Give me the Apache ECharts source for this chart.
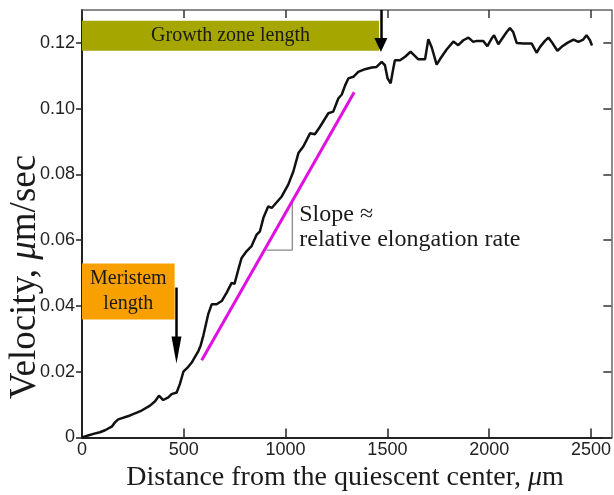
<!DOCTYPE html>
<html>
<head>
<meta charset="utf-8">
<title>Velocity profile along the root</title>
<script src="https://cdn.jsdelivr.net/npm/echarts@6/dist/echarts.min.js"></script>
<style>
  html, body { margin: 0; padding: 0; background: #fff; }
  #chart { width: 614px; height: 495px; }
</style>
</head>
<body>
<div id="chart"></div>
<script>
// Distance from the quiescent center (µm) and the measured velocity (µm/sec)
const distanceUm = [
  0, 30, 56, 88, 113, 146, 162, 178, 236, 293, 334, 359, 378, 399, 424, 440, 465,
  481, 498, 522, 539, 555, 571, 583, 596, 620, 637, 661, 686, 710, 735, 749, 768,
  784, 809, 833, 858, 874, 891, 915, 932, 981, 1013, 1038, 1063, 1087, 1120, 1144,
  1169, 1194, 1210, 1234, 1259, 1276, 1292, 1308, 1333, 1357, 1390, 1423, 1447,
  1472, 1488, 1501, 1516, 1529, 1537, 1562, 1587, 1614, 1631, 1652, 1685, 1701,
  1718, 1742, 1758, 1791, 1824, 1848, 1873, 1898, 1922, 1939, 1971, 1991, 2012,
  2024, 2045, 2069, 2086, 2102, 2118, 2135, 2168, 2209, 2233, 2250, 2274, 2291,
  2307, 2335, 2356, 2384, 2414, 2438, 2462, 2478, 2495, 2505
];
const velocity = [
  0.0000, 0.0006, 0.0011, 0.0016, 0.0022, 0.0033, 0.0046, 0.0055, 0.0067, 0.0082,
  0.0097, 0.0110, 0.0127, 0.0114, 0.0122, 0.0132, 0.0137, 0.0163, 0.0200, 0.0215,
  0.0228, 0.0245, 0.0262, 0.0280, 0.0310, 0.0375, 0.0405, 0.0405, 0.0415, 0.0440,
  0.0470, 0.0467, 0.0511, 0.0546, 0.0567, 0.0582, 0.0617, 0.0627, 0.0668, 0.0703,
  0.0698, 0.0733, 0.0769, 0.0809, 0.0865, 0.0885, 0.0925, 0.0922, 0.0945, 0.0970,
  0.0986, 0.0991, 0.1031, 0.1043, 0.1070, 0.1092, 0.1097, 0.1112, 0.1120, 0.1125,
  0.1127, 0.1142, 0.1132, 0.1092, 0.1077, 0.1122, 0.1147, 0.1147, 0.1158, 0.1173,
  0.1163, 0.1150, 0.1150, 0.1211, 0.1186, 0.1134, 0.1150, 0.1180, 0.1204, 0.1193,
  0.1208, 0.1216, 0.1203, 0.1206, 0.1206, 0.1190, 0.1213, 0.1223, 0.1196, 0.1218,
  0.1233, 0.1245, 0.1233, 0.1200, 0.1198, 0.1198, 0.1170, 0.1188, 0.1206, 0.1216,
  0.1203, 0.1176, 0.1188, 0.1200, 0.1210, 0.1203, 0.1210, 0.1223, 0.1208, 0.1192
];

// Axis ticks
const xTickValues = [0, 500, 1000, 1500, 2000, 2500];
const yTickValues = [0, 0.02, 0.04, 0.06, 0.08, 0.10, 0.12];

// Linear fit indicating the slope in the elongation zone
const slopeX = [588, 1337];
const slopeY = [0.0235, 0.105];

// Small right-angle marker under the slope line
const triangleX = [906, 1033, 1033];
const triangleY = [0.057, 0.057, 0.0721];

// Growth zone: box extent [x0, x1, y0, y1] and arrow [x, yStart, yTip]
const growthBox = [0, 1459, 0.1176, 0.1267];
const growthArrow = [1468, 0.13, 0.1172];

// Meristem: box extent and arrow
const meristemBox = [0, 455, 0.0359, 0.0529];
const meristemArrow = [464, 0.0456, 0.0225];

// Anchor (left, middle) of the slope annotation text
const slopeNote = [1067, 0.0639];

const zip = (xs, ys) => xs.map((x, i) => [x, ys[i]]);

const serif = "'Liberation Serif', 'DejaVu Serif', serif";
const sans = "'Liberation Sans', Arial, sans-serif";
const ink = '#1a1a1a';

const chart = echarts.init(document.getElementById('chart'), null, { renderer: 'canvas' });

// Vertical arrow; the head is centred on the line end, so the line stops
// half a head short of the tip.
function arrowSeries(arrow, headW, headH) {
  return {
    type: 'line',
    data: [],
    silent: true,
    markLine: {
      silent: true,
      animation: false,
      symbol: ['none', 'triangle'],
      symbolSize: [headW, headH],
      label: { show: false },
      lineStyle: { color: '#000', width: 2.5, type: 'solid' },
      data: [[{ coord: [arrow[0], arrow[1]] }, { coord: [arrow[0], arrow[2]] }]]
    },
    headH: headH
  };
}

function boxArea(box, color, text, fontSize, lineHeight) {
  return {
    type: 'line',
    data: [],
    silent: true,
    markArea: {
      silent: true,
      animation: false,
      itemStyle: { color: color, opacity: 1 },
      label: {
        show: true,
        position: 'inside',
        color: ink,
        fontFamily: serif,
        fontSize: fontSize,
        lineHeight: lineHeight,
        formatter: text
      },
      data: [[{ coord: [box[0], box[3]] }, { coord: [box[1], box[2]] }]]
    }
  };
}

const option = {
  animation: false,
  backgroundColor: '#fff',
  grid: { left: 82, right: 1, top: 10, bottom: 57.5, containLabel: false },
  xAxis: [
    {
      type: 'value', position: 'bottom', min: 0, max: 2600,
      axisLine: { show: true, onZero: false, lineStyle: { color: '#222', width: 2 } },
      axisTick: { show: true, inside: true, length: 9, customValues: xTickValues,
                  lineStyle: { color: '#222', width: 1.5 } },
      axisLabel: { show: true, customValues: xTickValues, margin: 4,
                   fontFamily: sans, fontSize: 18, color: '#222',
                   formatter: v => String(v) },
      splitLine: { show: false }
    },
    {
      type: 'value', position: 'top', min: 0, max: 2600,
      axisLine: { show: true, onZero: false, lineStyle: { color: '#666', width: 1.5 } },
      axisTick: { show: true, inside: true, length: 8, customValues: xTickValues,
                  lineStyle: { color: '#333', width: 1.5 } },
      axisLabel: { show: false },
      splitLine: { show: false }
    }
  ],
  yAxis: [
    {
      type: 'value', position: 'left', min: 0, max: 0.13,
      axisLine: { show: true, onZero: false, lineStyle: { color: '#222', width: 2 } },
      axisTick: { show: true, inside: false, length: 6, customValues: yTickValues,
                  lineStyle: { color: '#222', width: 1.5 } },
      axisLabel: { show: true, customValues: yTickValues, margin: 7,
                   fontFamily: sans, fontSize: 18, color: '#222',
                   formatter: v => (v === 0 ? '0' : v.toFixed(2)) },
      splitLine: { show: false }
    },
    {
      type: 'value', position: 'right', min: 0, max: 0.13,
      axisLine: { show: true, onZero: false, lineStyle: { color: '#666', width: 1.5 } },
      axisTick: { show: true, inside: true, length: 8, customValues: yTickValues,
                  lineStyle: { color: '#333', width: 1.5 } },
      axisLabel: { show: false },
      splitLine: { show: false }
    }
  ],
  series: [
    boxArea(growthBox, '#a6a600', 'Growth zone length', 20, 24),
    boxArea(meristemBox, '#f7a000', 'Meristem\nlength', 20, 25),
    {
      name: 'Velocity',
      type: 'line',
      data: zip(distanceUm, velocity),
      showSymbol: false,
      symbol: 'none',
      smooth: false,
      lineStyle: { color: '#111', width: 2.5 },
      z: 5
    },
    {
      name: 'Slope',
      type: 'line',
      data: zip(slopeX, slopeY),
      showSymbol: false,
      symbol: 'none',
      lineStyle: { color: '#e010e0', width: 3 },
      z: 4
    },
    {
      name: 'Slope marker',
      type: 'line',
      data: zip(triangleX, triangleY),
      showSymbol: false,
      symbol: 'none',
      lineStyle: { color: '#888', width: 1.3 },
      z: 3
    }
  ]
};

chart.setOption(option);

// Pull each arrow line back by half its head so the tip lands on the target.
const yPerPx = 0.13 / chart.getModel().getComponent('grid').coordinateSystem.getRect().height;
function adjustedArrow(arrow, headW, headH) {
  return arrowSeries([arrow[0], arrow[1], arrow[2] + yPerPx * headH / 2], headW, headH);
}

const notePos = chart.convertToPixel({ xAxisIndex: 0, yAxisIndex: 0 }, slopeNote);

chart.setOption({
  series: option.series.concat([
    adjustedArrow(growthArrow, 13, 14),
    adjustedArrow(meristemArrow, 10, 27)
  ]),
  graphic: [
    {
      type: 'text',
      x: 25, y: 277,
      rotation: Math.PI / 2,
      style: {
        text: 'Velocity, {it|\u03bc}m/sec',
        fontFamily: serif, fontSize: 37, fill: ink,
        align: 'center', verticalAlign: 'middle',
        rich: { it: { fontStyle: 'italic', fontFamily: serif, fontSize: 37 } }
      }
    },
    {
      type: 'text',
      x: 345, y: 478,
      style: {
        text: 'Distance from the quiescent center, {it|\u03bc}m',
        fontFamily: serif, fontSize: 28, fill: ink,
        align: 'center', verticalAlign: 'middle',
        rich: { it: { fontStyle: 'italic', fontFamily: serif, fontSize: 28 } }
      }
    },
    {
      type: 'text',
      x: notePos[0], y: notePos[1],
      style: {
        text: 'Slope \u2248\nrelative elongation rate',
        fontFamily: serif, fontSize: 24, lineHeight: 25, fill: ink,
        align: 'left', verticalAlign: 'middle'
      }
    }
  ]
});
</script>
</body>
</html>
